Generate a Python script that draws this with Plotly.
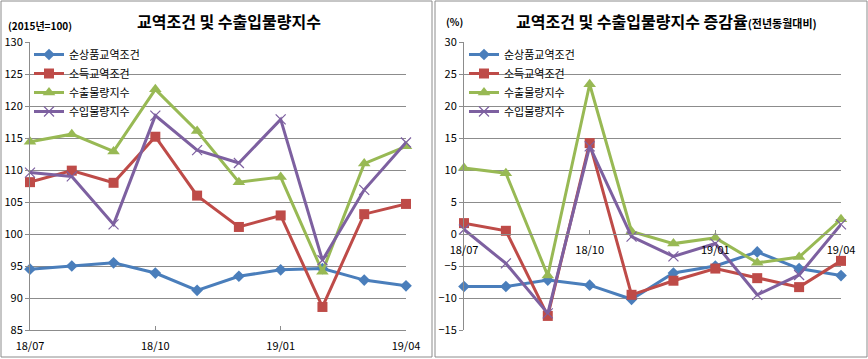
import plotly.graph_objects as go

months = ["18/07", "18/08", "18/09", "18/10", "18/11", "18/12", "19/01", "19/02", "19/03", "19/04"]
tick_months = ["18/07", "18/10", "19/01", "19/04"]
series_names = ["순상품교역조건", "소득교역조건", "수출물량지수", "수입물량지수"]

# Left: index (2015=100)
idx_terms = [94.5, 95.0, 95.5, 93.9, 91.2, 93.4, 94.4, 94.6, 92.8, 91.9]
idx_income = [108.1, 109.9, 108.0, 115.2, 106.0, 101.1, 102.9, 88.6, 103.1, 104.7]
idx_export = [114.4, 115.6, 112.9, 122.6, 116.1, 108.1, 108.9, 94.1, 111.0, 113.7]
idx_import = [109.6, 109.0, 101.5, 118.5, 113.1, 111.1, 117.9, 95.9, 106.9, 114.3]

# Right: YoY change (%)
yoy_terms = [-8.2, -8.2, -7.2, -8.0, -10.2, -6.1, -5.0, -2.8, -5.4, -6.5]
yoy_income = [1.7, 0.5, -12.8, 14.2, -9.5, -7.3, -5.4, -6.9, -8.3, -4.2]
yoy_export = [10.3, 9.5, -6.5, 23.4, 0.4, -1.5, -0.6, -4.5, -3.6, 2.3]
yoy_import = [0.7, -4.6, -12.4, 13.7, -0.4, -3.5, -1.5, -9.5, -6.4, 1.5]

colors = ["#4A7EBB", "#BE4B48", "#98B954", "#7D60A0"]
symbols = ["diamond", "square", "triangle-up", "x-thin"]
msizes = [9, 10, 11, 10]

W, H = 868, 359
FONT = "Noto Sans CJK KR"

def px(v):
    return v / W

def py(v):
    return 1 - v / H

fig = go.Figure()

left_data = [idx_terms, idx_income, idx_export, idx_import]
right_data = [yoy_terms, yoy_income, yoy_export, yoy_import]

for side, data in (("left", left_data), ("right", right_data)):
    for i, (name, vals) in enumerate(zip(series_names, data)):
        marker = dict(symbol=symbols[i], size=msizes[i], color=colors[i])
        if symbols[i] == "x-thin":
            marker["line"] = dict(color=colors[i], width=1.2)
        fig.add_trace(go.Scatter(
            x=months, y=vals, name=name, mode="lines+markers",
            line=dict(color=colors[i], width=3),
            marker=marker, cliponaxis=False,
            xaxis="x" if side == "left" else "x2",
            yaxis="y" if side == "left" else "y2",
            legend="legend" if side == "left" else "legend2",
        ))

ydom = [py(330), py(42)]
grid = "#8C8C8C"
tickfont = dict(family=FONT, size=11, color="#000")

fig.update_layout(
    width=W, height=H,
    margin=dict(l=0, r=0, t=0, b=0, autoexpand=False),
    paper_bgcolor="white", plot_bgcolor="white",
    font=dict(family=FONT, color="#000"),
    showlegend=True,
    xaxis=dict(domain=[px(30), px(406)], anchor="y", type="category",
               range=[0, 9], tickmode="array", tickvals=tick_months,
               showgrid=False, showline=True, linecolor=grid, linewidth=1,
               ticks="inside", ticklen=4, tickcolor=grid, tickfont=tickfont,
               ticklabelstandoff=6,
               zeroline=False, automargin=False),
    yaxis=dict(domain=ydom, anchor="x", range=[85, 130], dtick=5,
               showgrid=True, gridcolor=grid, gridwidth=1,
               showline=True, linecolor=grid, linewidth=1,
               ticks="outside", ticklen=4, tickcolor=grid, tickfont=tickfont,
               zeroline=False, automargin=False),
    xaxis2=dict(domain=[px(464), px(841)], anchor="free",
                position=ydom[0] + (ydom[1] - ydom[0]) * (15 / 45),
                type="category", range=[0, 9], tickmode="array", tickvals=tick_months,
                showgrid=False, showline=True, linecolor=grid, linewidth=1,
                ticks="inside", ticklen=4, tickcolor=grid, tickfont=tickfont,
                ticklabelstandoff=6,
                zeroline=False, automargin=False),
    yaxis2=dict(domain=ydom, anchor="x2", range=[-15, 30], dtick=5,
                showgrid=True, gridcolor=grid, gridwidth=1,
                showline=True, linecolor=grid, linewidth=1,
                ticks="outside", ticklen=4, tickcolor=grid, tickfont=tickfont,
                zeroline=False, automargin=False),
    legend=dict(x=px(29), y=py(40), xanchor="left", yanchor="top",
                bgcolor="rgba(0,0,0,0)", font=dict(family=FONT, size=11),
                tracegroupgap=0, itemwidth=30),
    legend2=dict(x=px(464), y=py(40), xanchor="left", yanchor="top",
                 bgcolor="rgba(0,0,0,0)", font=dict(family=FONT, size=11),
                 tracegroupgap=0, itemwidth=30),
    shapes=[
        dict(type="rect", xref="paper", yref="paper", x0=px(1), x1=px(432),
             y0=py(357), y1=py(1), line=dict(color="#8C8C8C", width=1)),
        dict(type="rect", xref="paper", yref="paper", x0=px(435), x1=px(867),
             y0=py(357), y1=py(1), line=dict(color="#8C8C8C", width=1)),
    ],
    annotations=[
        dict(text="<b>교역조건 및 수출입물량지수</b>", x=px(229), y=py(21),
             xanchor="center", yanchor="middle",
             xref="paper", yref="paper", showarrow=False,
             font=dict(family=FONT, size=16)),
        dict(text="<b>(2015년=100)</b>", x=px(6), y=py(25), xanchor="left",
             yanchor="middle",
             xref="paper", yref="paper", showarrow=False,
             font=dict(family=FONT, size=10)),
        dict(text="<b>교역조건 및 수출입물량지수 증감율</b><span style='font-size:11px'><b>(전년동월대비)</b></span>",
             x=px(666), y=py(21), xanchor="center", yanchor="middle",
             xref="paper", yref="paper", showarrow=False,
             font=dict(family=FONT, size=16)),
        dict(text="<b>(%)</b>", x=px(444), y=py(22), xanchor="left",
             yanchor="middle",
             xref="paper", yref="paper", showarrow=False,
             font=dict(family=FONT, size=10)),
    ],
)

fig.write_html("out.html", config={"displayModeBar": False},
               post_script="document.body.style.margin='0';document.body.style.overflow='hidden';")
